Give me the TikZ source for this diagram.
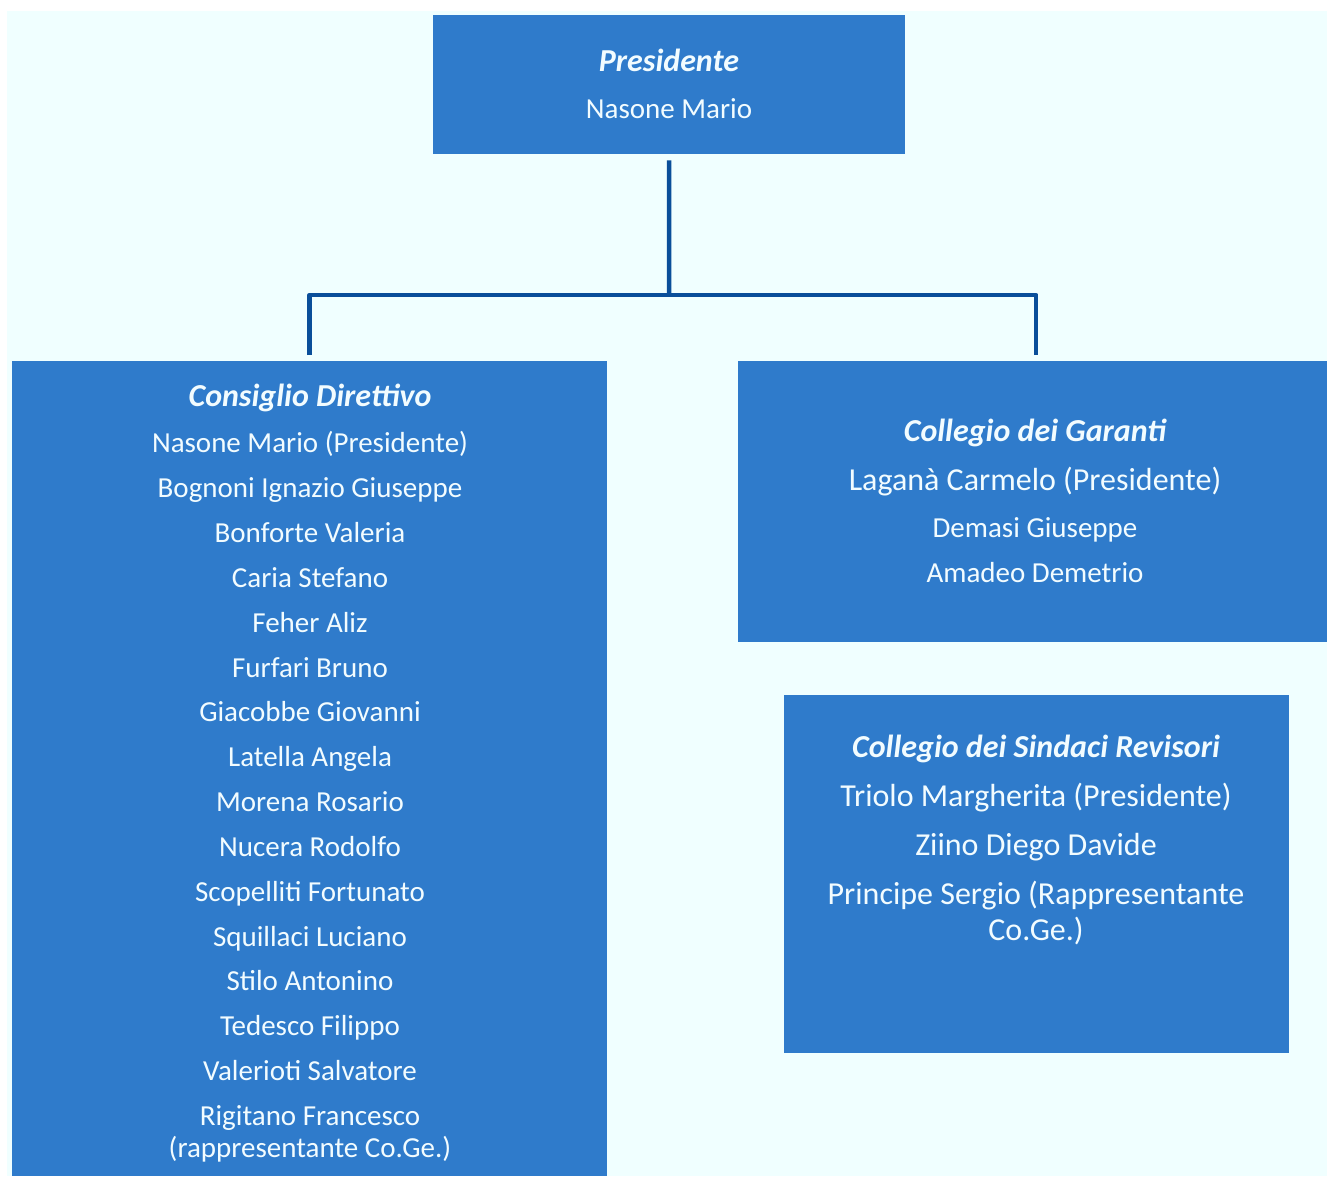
\documentclass[tikz,border=0pt]{standalone}
\usepackage{fontspec}
\setmainfont{Carlito}
\definecolor{bgcyan}{HTML}{F0FFFF}
\definecolor{boxblue}{HTML}{2F7BCB}
\definecolor{linkblue}{HTML}{0A4F9A}
\definecolor{txt}{HTML}{F2FCFF}
\begin{document}
\begin{tikzpicture}[x=1pt,y=-1pt,
  box/.style={fill=boxblue, draw=none, inner sep=0pt, anchor=north west},
  conn/.style={draw=linkblue, line width=4.5pt, line join=round},
  ttl/.style={text=txt, font=\fontsize{32}{36}\selectfont\bfseries\itshape, anchor=mid, inner sep=0pt},
  ln/.style={text=txt, font=\fontsize{29}{34}\selectfont, anchor=mid, inner sep=0pt, align=center},
  lnb/.style={ln, font=\fontsize{32}{36}\selectfont},
  ttlb/.style={ttl, font=\fontsize{32}{36}\selectfont\bfseries\itshape}]
\useasboundingbox (0,0) rectangle (1327,1176);
\fill[white] (0,0) rectangle (1327,1176);
\fill[bgcyan] (7,11) rectangle (1327,1176);
% boxes
\node[box, minimum width=472pt, minimum height=139pt] (pres) at (433,15) {};
\node[box, minimum width=595pt, minimum height=815pt] (cd) at (12,361) {};
\node[box, minimum width=589pt, minimum height=281pt] (cg) at (738,361) {};
\node[box, minimum width=505pt, minimum height=358pt] (cs) at (784,695) {};
% connectors
\coordinate (j) at (669,295);
\draw[conn] ([yshift=-6pt]pres.south) -- (j);
\draw[conn] ([yshift=6pt]cd.north) |- (j) -| ([xshift=3.5pt,yshift=6pt]cg.north);
% Presidente
\node[ttlb] (t0) at (669,69) {Presidente};
\node[ln] (p1) at (669,116) {Nasone Mario};
% Consiglio Direttivo
\node[ttl] (t1) at (310,404) {Consiglio Direttivo};
\foreach \n/\y/\s in {a/450/Nasone Mario (Presidente),
  b/495/Bognoni Ignazio Giuseppe,
  c/540/Bonforte Valeria,
  d/585/Caria Stefano,
  e/630/Feher Aliz,
  f/675/Furfari Bruno,
  g/719/Giacobbe Giovanni,
  h/764/Latella Angela,
  i/809/Morena Rosario,
  k/854/Nucera Rodolfo,
  l/899/Scopelliti Fortunato,
  m/944/Squillaci Luciano,
  n/988/Stilo Antonino,
  o/1033/Tedesco Filippo,
  p/1078/Valerioti Salvatore,
  q/1123/Rigitano Francesco,
  r/1155/(rappresentante Co.Ge.)}
  \node[ln] (cd\n) at (310,\y) {\s};
% Collegio dei Garanti
\node[ttlb] (t2) at (1035,439) {Collegio dei Garanti};
\node[lnb] (g1) at (1035,488) {Laganà Carmelo (Presidente)};
\node[ln] (g2) at (1035,535) {Demasi Giuseppe};
\node[ln] (g3) at (1035,580) {Amadeo Demetrio};
% Collegio dei Sindaci Revisori
\node[ttlb] (t3) at (1036,755) {Collegio dei Sindaci Revisori};
\node[lnb] (s1) at (1036,804) {Triolo Margherita (Presidente)};
\node[lnb] (s2) at (1036,853) {Ziino Diego Davide};
\node[lnb] (s3) at (1036,902) {Principe Sergio (Rappresentante};
\node[lnb] (s4) at (1036,938) {Co.Ge.)};
\end{tikzpicture}
\end{document}
